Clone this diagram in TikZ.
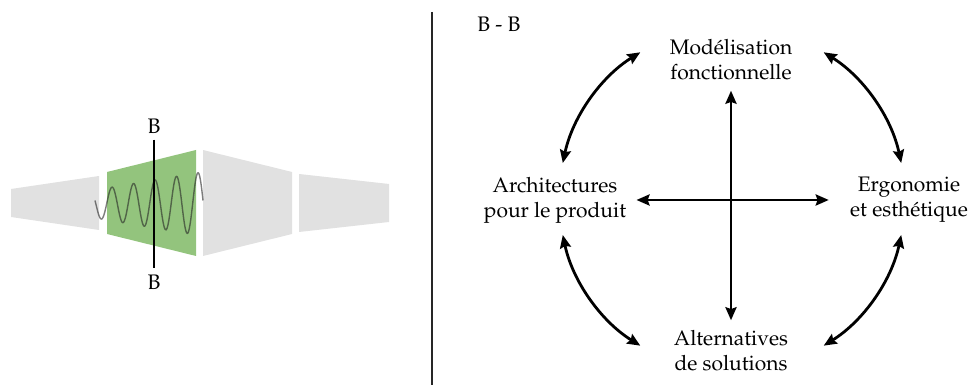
\documentclass[tikz,border=0pt]{standalone}
\usepackage[T1]{fontenc}
\usepackage{mathpazo}
\usepackage{xcolor}
\usepackage{tikz}
\usetikzlibrary{arrows.meta}
\definecolor{secgray}{RGB}{225,225,225}
\definecolor{secgreen}{RGB}{147,196,125}
\tikzset{
  bbpanel/.style={fill=secgray, draw=none},
  bbactive/.style={fill=secgreen, draw=none},
  bbwave/.style={line width=0.7pt, draw=black!85, opacity=0.6},
  bbcut/.style={line width=0.6pt, draw=black},
  bbsplit/.style={line width=0.6pt, draw=black!85},
  bbtext/.style={font=\fontsize{10.5}{12.5}\selectfont, align=center, inner sep=5pt},
  bbarrow/.style={line width=1.4pt, draw=black, {Stealth[length=6.5pt,width=5.5pt,inset=0.9pt]}-{Stealth[length=6.5pt,width=5.5pt,inset=0.9pt]}},
}

\begin{document}
\begin{tikzpicture}[x=0.5pt,y=0.5pt]
\useasboundingbox (0,0) rectangle (970,389);
% section strip
\fill[bbpanel] (11,200) -- (99,213) -- (99,159) -- (11,172) -- cycle;
\fill[bbactive] (107,217) -- (196,239) -- (196,133) -- (107,155) -- cycle;
\fill[bbpanel] (203,239) -- (292,217) -- (292,155) -- (203,133) -- cycle;
\fill[bbpanel] (299,215) -- (389,205) -- (389,167) -- (299,157) -- cycle;
\draw[bbwave] plot[domain=95:203, samples=220, smooth]
  (\x, {185 + (14 + (\x-95)*0.167)*cos((\x-112)*16.744)});
% cut B-B
\node[font=\fontsize{10.5}{12.5}\selectfont, inner sep=3pt] (btop) at (154,263) {B};
\node[font=\fontsize{10.5}{12.5}\selectfont, inner sep=3pt] (bbot) at (154,107) {B};
\draw[bbcut] (btop) -- (bbot);
% divider
\coordinate (splittop) at (432,377);
\coordinate (splitbot) at (432,4);
\draw[bbsplit] (splittop) -- (splitbot);
\node[font=\fontsize{10.5}{12.5}\selectfont, inner sep=0pt, anchor=base west] (title) at (477,357) {B - B};
% view
\coordinate (hub) at (732,190);
\node[bbtext] (mod) at (731,329) {Mod\'elisation\\fonctionnelle};
\node[bbtext] (arch) at (555,189) {Architectures\\pour le produit};
\node[bbtext] (ergo) at (909,189) {Ergonomie\\et esth\'etique};
\node[bbtext] (alt) at (731,38) {Alternatives\\de solutions};
\draw[bbarrow] (alt) -- (mod);
\draw[bbarrow, shorten >=5.5pt] (arch) -- (ergo);
\draw[bbarrow] ([shift={(122:173)}]hub) arc[start angle=122, end angle=168, radius=173];
\draw[bbarrow] ([shift={(58:173)}]hub) arc[start angle=58, end angle=12, radius=173];
\draw[bbarrow] ([shift={(192:173)}]hub) arc[start angle=192, end angle=238, radius=173];
\draw[bbarrow] ([shift={(302:173)}]hub) arc[start angle=302, end angle=348, radius=173];
\end{tikzpicture}
\end{document}
